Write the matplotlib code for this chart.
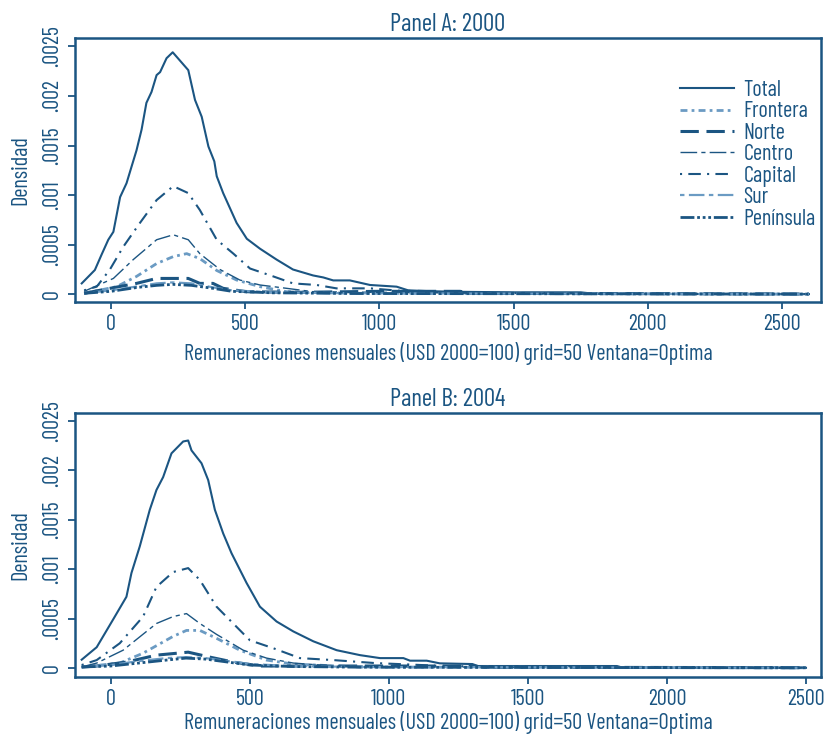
import matplotlib
matplotlib.use("Agg")
import matplotlib.pyplot as plt

# ---- COLOURS / FONT ----
NAVY = "#1b5582"
LIGHT = "#6b9bc3"
plt.rcParams["font.family"] = ["Barlow Condensed", "DejaVu Sans"]
FS = 16

# ---- DATA ----
series_names = ["Total", "Frontera", "Norte", "Centro", "Capital", "Sur", "Península"]

# Panel A: 2000
a_total_x = [-109, -60, -35, -10, 9, 34, 58, 77, 95, 114, 132, 151, 170, 183, 207, 230,
             288, 313, 338, 363, 385, 394, 418, 468, 506, 555, 617, 678, 753, 791, 828,
             890, 965, 1064, 1107, 1200, 1300, 1500, 1750, 1800, 2000, 2600]
a_total_y = [0.00011, 0.000245, 0.0004, 0.00055, 0.00063, 0.00098, 0.00112, 0.00129,
             0.00145, 0.00166, 0.00193, 0.00204, 0.00221, 0.00224, 0.00238, 0.00244,
             0.00226, 0.00196, 0.00179, 0.00149, 0.00134, 0.00119, 0.00102, 0.00072,
             0.00056, 0.00046, 0.00035, 0.00025, 0.00019, 0.00017, 0.00014, 0.00014,
             0.000094, 0.000077, 0.00004, 0.00003, 0.000025, 0.00002, 0.00002, 0.000005,
             0.000003, 0.000002]
a_capital_x = [-100, -53, -4, 46, 108, 170, 232, 288, 331, 394, 456, 518, 605, 678, 766,
               840, 965, 1100, 1300, 1600, 2600]
a_capital_y = [0.00004, 0.000077, 0.00025, 0.00048, 0.00072, 0.00095, 0.00109, 0.00102,
               0.00085, 0.00055, 0.00041, 0.00026, 0.00018, 0.00011, 0.000094, 0.00006,
               0.00006, 0.00003, 0.00002, 0.000008, 0.000003]
a_centro_x = [-100, 9, 83, 170, 232, 288, 331, 406, 480, 555, 655, 753, 1000, 1400, 2600]
a_centro_y = [0.00003, 0.00016, 0.00035, 0.00055, 0.0006, 0.00055, 0.00041, 0.00025,
              0.000144, 0.000094, 0.00006, 0.000026, 0.00002, 0.00001, 0.000003]
a_frontera_x = [-100, 21, 95, 170, 232, 282, 331, 394, 468, 555, 655, 900, 2600]
a_frontera_y = [0.00001, 0.000077, 0.00018, 0.00031, 0.00038, 0.00041, 0.00036, 0.00024,
                0.000144, 0.000077, 0.000026, 0.00001, 0.000002]
a_norte_x = [-100, -4, 95, 170, 288, 331, 380, 418, 506, 700, 1000, 1300, 1350, 2600]
a_norte_y = [0.00001, 0.00006, 0.00011, 0.00016, 0.00016, 0.00011, 0.00011, 0.00006,
             0.000026, 0.00002, 0.00003, 0.00003, 0.00001, 0.000003]
a_sur_x = [-100, 0, 100, 170, 230, 300, 380, 450, 600, 900, 2600]
a_sur_y = [0.00001, 0.00004, 0.00008, 0.00011, 0.00012, 0.00011, 0.00007, 0.00004,
           0.00002, 0.00001, 0.000002]
a_pen_x = [-100, 0, 100, 170, 230, 300, 380, 450, 600, 900, 2600]
a_pen_y = [0.00001, 0.00003, 0.00007, 0.00009, 0.0001, 0.00009, 0.00006, 0.00003,
           0.000015, 0.000008, 0.000002]

# Panel B: 2004
b_total_x = [-105, -51, 8, 56, 74, 104, 140, 164, 188, 218, 260, 278, 290, 326, 350, 374,
             404, 434, 488, 536, 596, 656, 728, 812, 896, 968, 1052, 1076, 1136, 1183,
             1300, 1320, 1820, 1840, 2500]
b_total_y = [0.000084, 0.00021, 0.00049, 0.00072, 0.00096, 0.00123, 0.0016, 0.0018,
             0.00193, 0.00217, 0.00229, 0.0023, 0.0022, 0.00207, 0.0019, 0.0016, 0.00136,
             0.00116, 0.00086, 0.00062, 0.00047, 0.00037, 0.00027, 0.00018, 0.00013,
             0.0001, 0.0001, 0.000074, 0.000074, 0.000047, 0.00004, 0.00002, 0.00002,
             0.000004, 0.000002]
b_capital_x = [-105, -51, 32, 116, 164, 224, 278, 320, 380, 440, 500, 584, 680, 800, 950,
               1200, 1500, 2500]
b_capital_y = [0.00003, 0.00008, 0.00025, 0.00052, 0.00082, 0.00097, 0.00101, 0.00089,
               0.00062, 0.00045, 0.00028, 0.0002, 0.0001, 0.00008, 0.00005, 0.00002,
               0.00001, 0.000003]
b_centro_x = [-105, -51, 44, 164, 224, 272, 320, 380, 476, 560, 656, 800, 1200, 2500]
b_centro_y = [0.00001, 0.00005, 0.00018, 0.00045, 0.00052, 0.00055, 0.00045, 0.00034,
              0.00018, 0.0001, 0.00005, 0.00002, 0.00001, 0.000002]
b_frontera_x = [-105, 32, 116, 224, 272, 320, 380, 464, 560, 656, 900, 2500]
b_frontera_y = [0.00001, 0.00005, 0.00015, 0.00032, 0.00038, 0.00038, 0.0003, 0.00018,
                0.00008, 0.00004, 0.00001, 0.000002]
b_norte_x = [-105, -51, 56, 164, 278, 356, 440, 536, 900, 1300, 1350, 2500]
b_norte_y = [0.00001, 0.00002, 0.00006, 0.00013, 0.00016, 0.00011, 0.00006, 0.00002,
             0.00002, 0.00002, 0.000008, 0.000003]
b_sur_x = [-105, 0, 100, 200, 270, 340, 420, 500, 650, 900, 2500]
b_sur_y = [0.00001, 0.00003, 0.00007, 0.0001, 0.00011, 0.0001, 0.00007, 0.00004,
           0.00002, 0.00001, 0.000002]
b_pen_x = [-105, 0, 100, 200, 270, 340, 420, 500, 650, 900, 2500]
b_pen_y = [0.00001, 0.00002, 0.00005, 0.00008, 0.0001, 0.00009, 0.00006, 0.00003,
           0.000015, 0.000008, 0.000002]

y_ticks = [0, 0.0005, 0.001, 0.0015, 0.002, 0.0025]
y_ticklabels = ["0", ".0005", ".001", ".0015", ".002", ".0025"]
x_ticks = [0, 500, 1000, 1500, 2000, 2500]
x_label = "Remuneraciones mensuales (USD 2000=100) grid=50 Ventana=Optima"

# ---- LINE STYLES ----
styles = {
    "Total":     dict(color=NAVY, lw=1.5, ls="-"),
    "Frontera":  dict(color=LIGHT, lw=2.0, ls=(0, (2.5, 1.5, 1, 1.5))),
    "Norte":     dict(color=NAVY, lw=2.2, ls=(0, (6, 2.5))),
    "Centro":    dict(color=NAVY, lw=1.0, ls=(0, (12, 3, 3, 3))),
    "Capital":   dict(color=NAVY, lw=1.5, ls=(0, (1, 3, 6, 3))),
    "Sur":       dict(color=LIGHT, lw=1.6, ls=(0, (2, 2, 7, 2))),
    "Península": dict(color=NAVY, lw=2.0, ls=(0, (5, 1, 1, 1, 1, 1, 1, 1))),
}

fig = plt.figure(figsize=(8.31, 7.35), dpi=100)
ax_a = fig.add_axes([75 / 831, 1 - 302 / 735, 746 / 831, 264 / 735])
ax_b = fig.add_axes([75 / 831, 1 - 677 / 735, 746 / 831, 264 / 735])

panels = [
    (ax_a, "Panel A: 2000", (-134, 2645), (-0.0000776, 0.002584), 5,
     [a_total_x, a_frontera_x, a_norte_x, a_centro_x, a_capital_x, a_sur_x, a_pen_x],
     [a_total_y, a_frontera_y, a_norte_y, a_centro_y, a_capital_y, a_sur_y, a_pen_y]),
    (ax_b, "Panel B: 2004", (-129, 2554), (-0.000091, 0.002578), 1,
     [b_total_x, b_frontera_x, b_norte_x, b_centro_x, b_capital_x, b_sur_x, b_pen_x],
     [b_total_y, b_frontera_y, b_norte_y, b_centro_y, b_capital_y, b_sur_y, b_pen_y]),
]

for ax, title, xlim, ylim, lpad, xs, ys in panels:
    for name, x, y in zip(series_names, xs, ys):
        ax.plot(x, y, label=name, **styles[name])
    ax.set_xlim(*xlim)
    ax.set_ylim(*ylim)
    ax.set_xticks(x_ticks)
    ax.set_yticks(y_ticks)
    ax.set_yticklabels(y_ticklabels, rotation=90, va="center")
    ax.tick_params(colors=NAVY, labelcolor=NAVY, direction="out", length=5, width=1.3,
                   labelsize=FS)
    for sp in ax.spines.values():
        sp.set_color(NAVY)
        sp.set_linewidth(1.8)
    ax.set_title(title, color=NAVY, fontsize=18, pad=5)
    ax.set_xlabel(x_label, color=NAVY, fontsize=FS, labelpad=lpad)
    ax.set_ylabel("Densidad", color=NAVY, fontsize=FS, labelpad=8)

leg = ax_a.legend(loc="upper right", bbox_to_anchor=(1.005, 0.875), frameon=False,
                  handlelength=2.4, handletextpad=0.45, labelspacing=0.02, fontsize=FS,
                  borderaxespad=0.0)
for t in leg.get_texts():
    t.set_color(NAVY)

fig.savefig("out.png", dpi=100)
